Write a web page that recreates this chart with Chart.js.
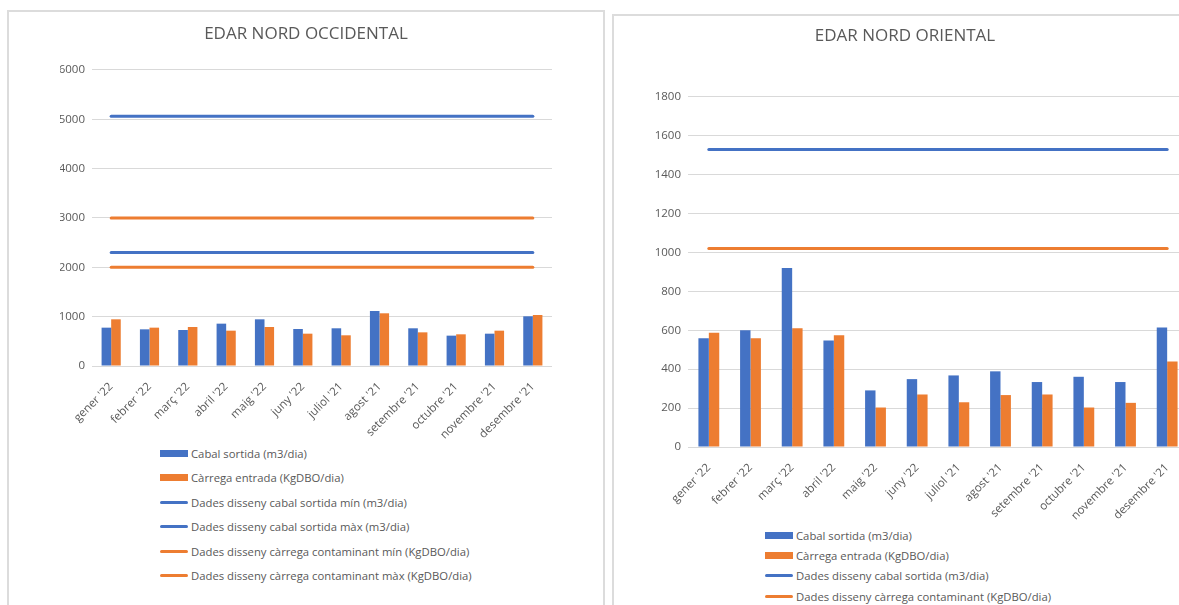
<!DOCTYPE html>
<html>
<head>
<meta charset="utf-8">
<script src="https://cdn.jsdelivr.net/npm/chart.js@4.4.1/dist/chart.umd.min.js"></script>
<style>
body{margin:0;width:1179px;height:605px;overflow:hidden;background:#fff;position:relative;font-family:'Open Sans',sans-serif}
.panel{position:absolute;border:2px solid #dcdcdc;background:#fff}
#pOcc{left:7px;top:10px;width:594px;height:640px}
#pOri{left:612px;top:14px;width:640px;height:640px}
.wrap{position:absolute}
#wOcc{left:8px;top:11px;width:596px;height:430px}
#wOri{left:613px;top:15px;width:584px;height:510px}
.legend{position:absolute;font-size:11.3px;color:#595959}
.legend div{display:flex;align-items:center;white-space:nowrap}
.legend .m{display:inline-block;width:28px;margin-right:3px}
#lOcc{left:160px;top:441px}
#lOcc div{height:24.5px}
#lOri{left:765px;top:525px}
#lOri div{height:20.4px}
</style>
</head>
<body>
<div class="panel" id="pOcc"></div>
<div class="panel" id="pOri"></div>
<div class="wrap" id="wOcc"><canvas id="cOcc"></canvas></div>
<div class="wrap" id="wOri"><canvas id="cOri"></canvas></div>
<div class="legend" id="lOcc"></div>
<div class="legend" id="lOri"></div>
<script>
const mesos = ["gener '22","febrer '22","març '22","abril '22","maig '22","juny '22","juliol '21","agost '21","setembre '21","octubre '21","novembre '21","desembre '21"];

// EDAR Nord Occidental
const occCabal = [777,743,730,858,946,750,764,1115,764,615,655,1007];
const occCarrega = [946,777,790,716,790,655,622,1068,682,642,716,1034];
const occCabalMin = [2300,2300,2300,2300,2300,2300,2300,2300,2300,2300,2300,2300];
const occCabalMax = [5060,5060,5060,5060,5060,5060,5060,5060,5060,5060,5060,5060];
const occCarregaMin = [2000,2000,2000,2000,2000,2000,2000,2000,2000,2000,2000,2000];
const occCarregaMax = [3000,3000,3000,3000,3000,3000,3000,3000,3000,3000,3000,3000];

// EDAR Nord Oriental
const oriCabal = [559,600,920,547,291,349,368,389,334,361,334,614];
const oriCarrega = [588,559,610,574,203,270,230,267,270,203,227,440];
const oriCabalDisseny = [1530,1530,1530,1530,1530,1530,1530,1530,1530,1530,1530,1530];
const oriCarregaDisseny = [1020,1020,1020,1020,1020,1020,1020,1020,1020,1020,1020,1020];

const blau = '#4472C4';
const taronja = '#ED7D31';
const gris = '#595959';

function bar(label, data, color) {
  return {label: label, data: data, backgroundColor: color, borderWidth: 0,
    categoryPercentage: 0.5, barPercentage: 1, order: 1};
}
function linia(label, data, color) {
  return {type: 'line', label: label, data: data, borderColor: color, backgroundColor: color,
    borderWidth: 3, pointRadius: 0, borderCapStyle: 'round', order: 2};
}

// side padding is equal on both sides so the title is centred on the whole panel
function makeChart(id, title, datasets, yMax, yStep, opt) {
  return new Chart(document.getElementById(id), {
    type: 'bar',
    data: {labels: mesos, datasets: datasets},
    options: {
      responsive: true,
      maintainAspectRatio: false,
      animation: false,
      layout: {padding: {left: opt.pad, right: opt.pad, top: 0, bottom: 0}},
      plugins: {
        legend: {display: false},
        tooltip: {enabled: false},
        title: {
          display: true,
          text: title,
          color: gris,
          font: {family: 'Open Sans', size: 17, weight: 'normal'},
          padding: {top: opt.titleTop, bottom: opt.titleBottom}
        }
      },
      scales: {
        x: {
          grid: {display: false},
          border: {display: false},
          ticks: {
            color: gris,
            font: {family: 'Open Sans', size: 11.5},
            minRotation: 45,
            maxRotation: 45,
            padding: 6
          },
          afterFit: s => { s.height = opt.xHeight; }
        },
        y: {
          min: 0,
          max: yMax,
          grid: {color: '#d9d9d9', drawTicks: false},
          border: {display: false},
          ticks: {
            stepSize: yStep,
            color: gris,
            font: {family: 'Open Sans', size: 11.5},
            padding: 7,
            callback: v => v
          },
          afterFit: s => { s.width = opt.yWidth; }
        }
      }
    }
  });
}

function drawLegend(elId, chart) {
  const el = document.getElementById(elId);
  chart.data.datasets.forEach(ds => {
    const row = document.createElement('div');
    const m = document.createElement('span');
    m.className = 'm';
    if (ds.type === 'line') {
      m.style.height = '3px';
      m.style.borderRadius = '2px';
      m.style.background = ds.borderColor;
    } else {
      m.style.height = '7px';
      m.style.background = ds.backgroundColor;
    }
    row.appendChild(m);
    row.append(ds.label);
    el.appendChild(row);
  });
}

const occ = makeChart('cOcc', 'EDAR NORD OCCIDENTAL', [
  bar('Cabal sortida (m3/dia)', occCabal, blau),
  bar('Càrrega entrada (KgDBO/dia)', occCarrega, taronja),
  linia('Dades disseny cabal sortida mín (m3/dia)', occCabalMin, blau),
  linia('Dades disseny cabal sortida màx (m3/dia)', occCabalMax, blau),
  linia('Dades disseny càrrega contaminant mín (KgDBO/dia)', occCarregaMin, taronja),
  linia('Dades disseny càrrega contaminant màx (KgDBO/dia)', occCarregaMax, taronja)
], 6000, 1000, {pad: 52, titleTop: 13, titleBottom: 25.5, xHeight: 75, yWidth: 32});

const ori = makeChart('cOri', 'EDAR NORD ORIENTAL', [
  bar('Cabal sortida (m3/dia)', oriCabal, blau),
  bar('Càrrega entrada (KgDBO/dia)', oriCarrega, taronja),
  linia('Dades disseny cabal sortida (m3/dia)', oriCabalDisseny, blau),
  linia('Dades disseny càrrega contaminant (KgDBO/dia)', oriCarregaDisseny, taronja)
], 1800, 200, {pad: 9, titleTop: 11, titleBottom: 50.5, xHeight: 78, yWidth: 66});

drawLegend('lOcc', occ);
drawLegend('lOri', ori);
</script>
</body>
</html>
